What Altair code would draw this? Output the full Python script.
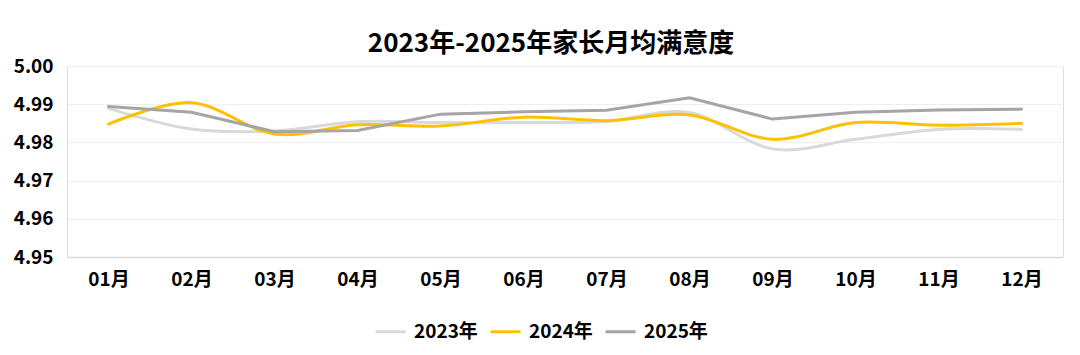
import altair as alt
import pandas as pd

months = ["01月", "02月", "03月", "04月", "05月", "06月", "07月", "08月", "09月", "10月", "11月", "12月"]
series_names = ["2023年", "2024年", "2025年"]
v2023 = [4.9889, 4.9835, 4.9830, 4.9854, 4.9852, 4.9852, 4.9855, 4.9878, 4.9783, 4.9808, 4.9834, 4.9834]
v2024 = [4.9848, 4.9904, 4.9822, 4.9846, 4.9843, 4.9866, 4.9857, 4.9872, 4.9808, 4.9852, 4.9845, 4.9850]
v2025 = [4.9894, 4.9879, 4.9828, 4.9831, 4.9874, 4.9880, 4.9884, 4.9917, 4.9861, 4.9879, 4.9885, 4.9887]
colors = ["#d9d9d9", "#ffc000", "#a5a5a5"]
y_ticks = [4.95, 4.96, 4.97, 4.98, 4.99, 5.00]

rows = []
for name, vals in zip(series_names, [v2023, v2024, v2025]):
    for i, (m, v) in enumerate(zip(months, vals)):
        rows.append({"month": m, "value": v, "series": name, "order": i})
df = pd.DataFrame(rows)

FONT = "Noto Sans CJK SC"

x_enc = alt.X("month:O", sort=months, scale=alt.Scale(padding=0.5),
              axis=alt.Axis(title=None, labelAngle=0, labelFontSize=19, labelFontWeight="bold",
                            labelColor="#000000", labelPadding=13, ticks=False,
                            domainColor="#d9d9d9", domainWidth=1.5, grid=False, labelFont=FONT))
y_enc = alt.Y("value:Q", scale=alt.Scale(domain=[4.95, 5.00], nice=False, zero=False),
              axis=alt.Axis(title=None, values=y_ticks, format=".2f", labelFontSize=19,
                            labelFontWeight="bold", labelColor="#000000", labelPadding=14,
                            ticks=False, domain=False, gridColor="#efefef", gridWidth=1.2,
                            labelFont=FONT, labelBaseline="middle"))
color_enc = alt.Color("series:N", scale=alt.Scale(domain=series_names, range=colors),
                      legend=alt.Legend(title=None, orient="none", direction="horizontal",
                                        legendX=307, legendY=249, symbolType="stroke",
                                        symbolSize=900, symbolStrokeWidth=3, labelFontSize=19,
                                        labelFontWeight="bold", labelColor="#000000",
                                        labelOffset=7, columnPadding=6, labelFont=FONT))

base = alt.Chart(df).encode(x=x_enc, y=y_enc, color=color_enc, order="order:Q")

smooth = base.transform_filter(
    alt.FieldOneOfPredicate(field="series", oneOf=["2023年", "2024年"])
).mark_line(interpolate="cardinal", tension=0, strokeWidth=3, strokeCap="round")

straight = base.transform_filter(
    alt.FieldEqualPredicate(field="series", equal="2025年")
).mark_line(interpolate="linear", strokeWidth=3, strokeCap="round")

chart = alt.layer(smooth, straight).properties(
    width=996, height=191,
    title=alt.TitleParams("2023年-2025年家长月均满意度", fontSize=26, fontWeight="bold",
                          color="#000000", font=FONT, anchor="middle", dx=-14, dy=10, offset=10),
    autosize=alt.AutoSizeParams(type="none"),
    padding={"left": 59, "top": 58, "right": 9, "bottom": 90},
).configure_view(stroke=None).configure(background="white")

chart.save("out.html", embed_options={"renderer": "svg", "actions": False})
